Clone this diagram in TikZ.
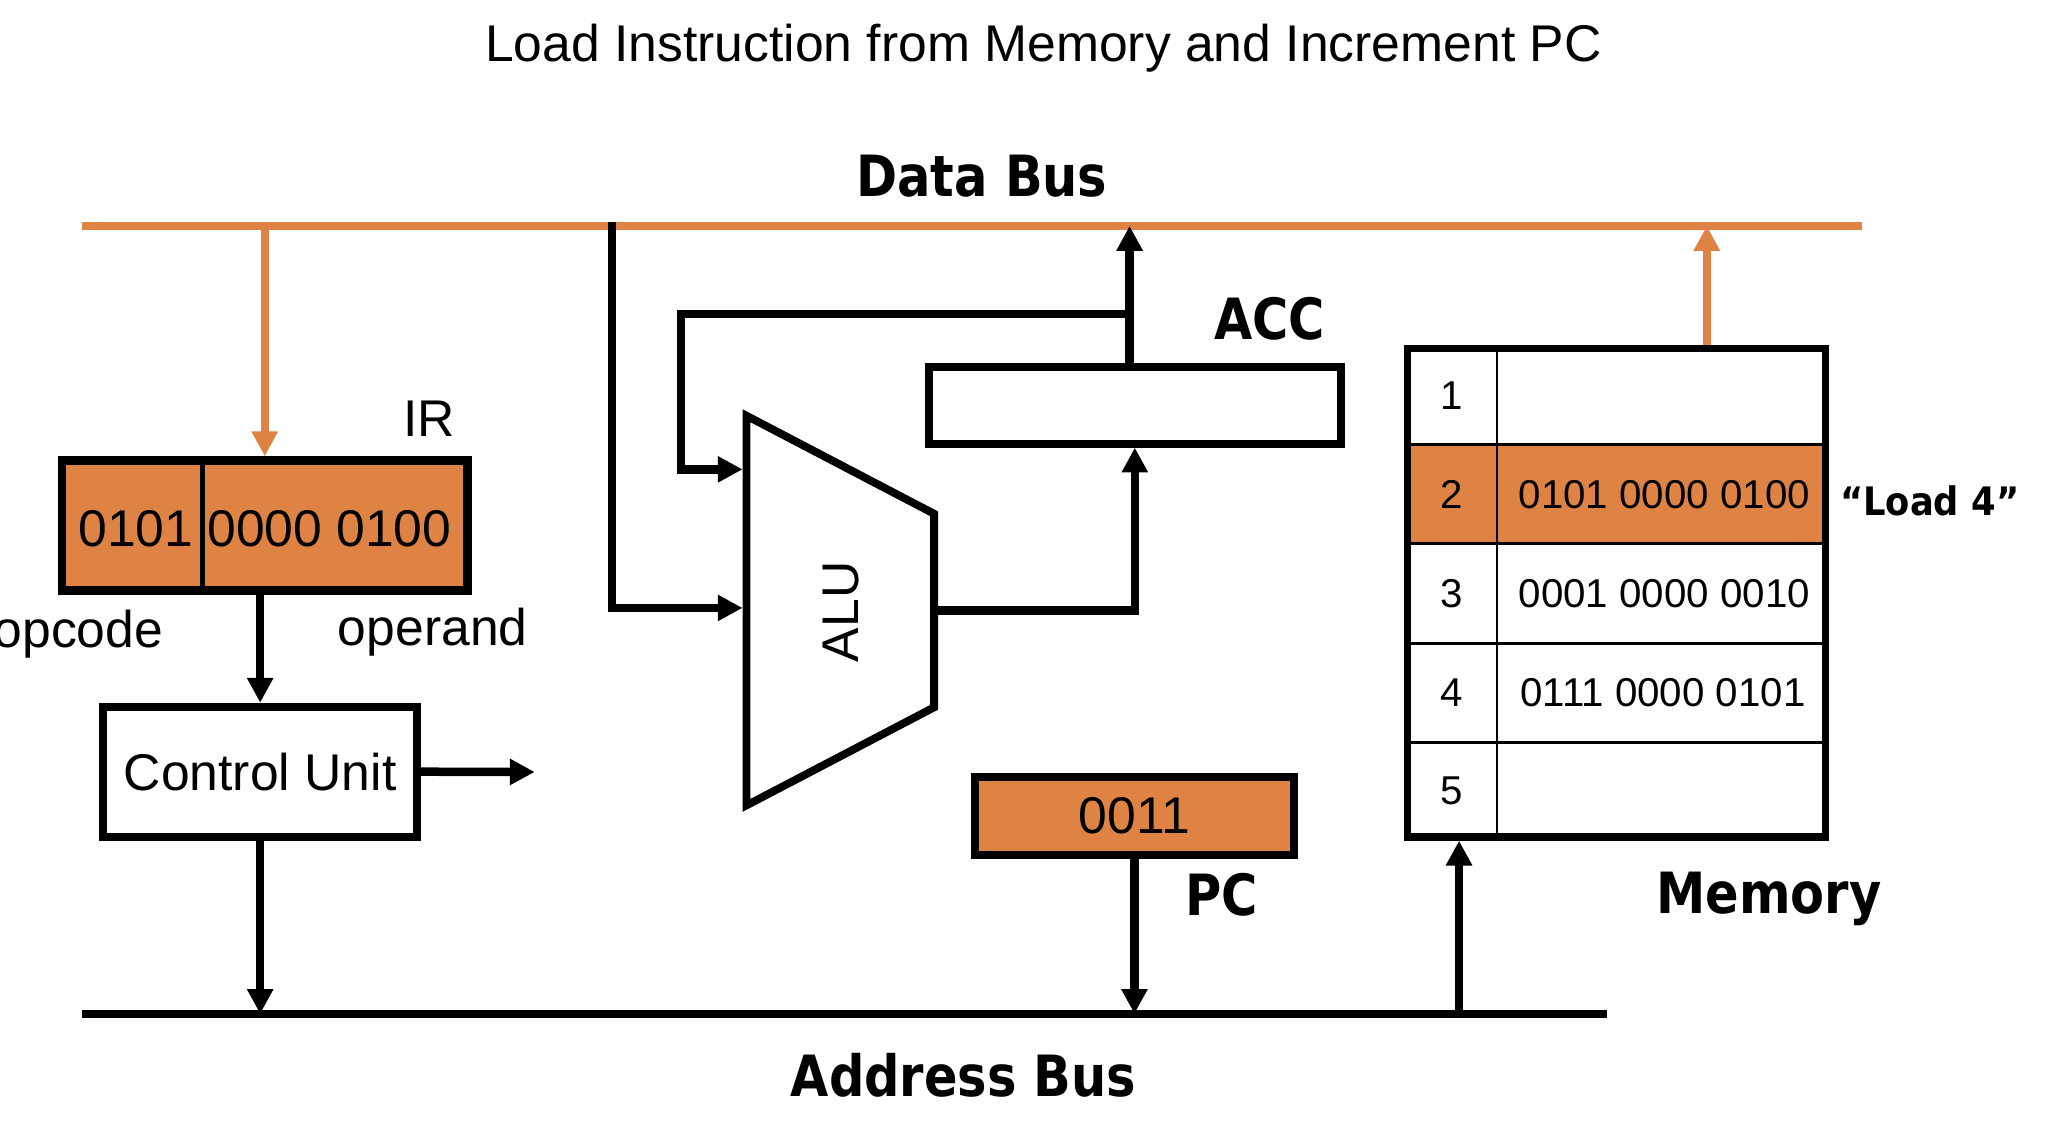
\documentclass[tikz,border=0pt]{standalone}
\usepackage{fontspec}
\usepackage{graphicx}
\setmainfont{Liberation Sans}
\newfontfamily\dvs{DejaVu Sans}
\usetikzlibrary{arrows.meta}
\definecolor{orng}{RGB}{223,131,69}
\newcommand{\blab}[3][0.87]{\scalebox{#1}[1]{\dvs\bfseries\fontsize{#2}{#2}\selectfont #3}}
\begin{document}
\begin{tikzpicture}[x=1pt,y=-1pt,
  ln/.style={line width=6.5pt, line join=miter},
  arr/.style={ln, -{Triangle[width=19pt,length=19pt]}},
  oarr/.style={arr, draw=orng},
  box/.style={draw, line width=6pt, inner sep=0pt, font=\fontsize{39.5}{45}\selectfont},
  txt/.style={inner sep=0pt, anchor=base, font=\fontsize{39.5}{45}\selectfont},
  mtxt/.style={inner sep=0pt, font=\fontsize{30.8}{36}\selectfont},
  blbl/.style={inner sep=0pt, anchor=base}]
\useasboundingbox (0,0) rectangle (1568,869);

% title
\node[txt] (title) at (798,47) {Load Instruction from Memory and Increment PC};

% buses
\coordinate (db-l) at (63,172.8);
\coordinate (db-r) at (1424,172.8);
\coordinate (ab-l) at (63,775.5);
\coordinate (ab-r) at (1229,775.5);
\draw[ln, orng] (db-l) -- (db-r);
\draw[ln] (ab-l) -- (ab-r);
\node[blbl] (dblab) at (751,150.5) {\blab{43.5}{Data Bus}};
\node[blbl] (ablab) at (737,839) {\blab{43.5}{Address Bus}};

% helper coordinates
\coordinate (tap2) at (468,169.5);
\coordinate (alu-in1) at (568,359);
\coordinate (alu-in2) at (568,465);
\coordinate (alu-out) at (714.5,467);
\coordinate (acc-tap) at (864,240);
\coordinate (fb) at (521,359);
\coordinate (cu-out) at (409,590.5);
\coordinate (m-addr) at (1116,775.5);
\coordinate (m-data) at (1305.5,172.8);

% boxes (nodes)
\node[box, line width=6.5pt, fill=orng, minimum width=310.5, minimum height=99.5] (ir) at (202.5,402) {};
\node[box, fill=white, minimum width=240, minimum height=99.5] (cu) at (199,590.25) {Control Unit};
\node[box, fill=white, minimum width=315, minimum height=58.7] (acc) at (868,310) {};
\node[box, fill=orng, minimum width=243.8, minimum height=60] (pc) at (867.7,624) {0011};

% IR contents
\draw[line width=4pt] (ir.north -| 155,0) -- (ir.south -| 155,0);
\node[txt] (op1) at (104,418) {0101};
\node[txt] (op2) at (252,418) {0000 0100};
\node[txt] (irlab) at (328,333.6) {IR};
\node[txt, anchor=base east] (opc) at (125,495) {opcode};
\node[txt] (opr) at (331,494) {operand};

% ALU
\coordinate (alu-a) at (571,318);
\coordinate (alu-b) at (714.5,393);
\coordinate (alu-c) at (714.5,541);
\coordinate (alu-d) at (571,616);
\draw[line width=6pt, line join=miter, fill=white] (alu-a) -- (alu-b) -- (alu-c) -- (alu-d) -- cycle;
\node[inner sep=0pt, rotate=90, font=\fontsize{39.5}{45}\selectfont] (alu) at (643,468) {ALU};

\node[blbl] (acclab) at (971,260) {\blab{43.5}{ACC}};
\node[blbl] (pclab) at (934.5,700) {\blab{43.5}{PC}};

% memory
\fill[orng] (1074,340) rectangle (1399,415.5);
\draw[line width=2.2pt] (1077,340) -- (1396,340)
  (1077,415.5) -- (1396,415.5)
  (1077,492) -- (1396,492)
  (1077,568) -- (1396,568)
  (1145,267) -- (1145,640);
\node[draw, line width=5.6pt, inner sep=0pt, minimum width=319.4, minimum height=373.4] (mem) at (1236.5,453.5) {};
\node[mtxt] (n1) at (1110,302.5) {1};
\node[mtxt] (n2) at (1110,378) {2};
\node[mtxt] (n3) at (1110,454) {3};
\node[mtxt] (n4) at (1110,530) {4};
\node[mtxt] (n5) at (1110,605) {5};
\node[mtxt] (c2) at (1273,378) {0101 0000 0100};
\node[mtxt] (c3) at (1273,454) {0001 0000 0010};
\node[mtxt] (c4) at (1272,530) {0111 0000 0101};
\node[blbl] (loadlab) at (1476,394) {\blab[0.9]{30}{“Load 4”}};
\node[blbl] (memlab) at (1353,699) {\blab{43.5}{Memory}};

% connectors
\draw[oarr] (ir.north |- db-l) -- (ir.north);
\draw[arr] (cu.north |- ir.south) -- (cu.north);
\draw[arr] (cu.east) -- (cu-out);
\draw[arr] (cu.south) -- (cu.south |- ab-l);
\draw[arr] (tap2) |- (alu-in2);
\draw[arr] (acc-tap) -| (fb) -- (alu-in1);
\draw[arr] (alu-out) -| (acc.south);
\draw[arr] (acc.north -| acc-tap) -- (acc-tap |- db-l);
\draw[arr] (pc.south) -- (pc.south |- ab-l);
\draw[arr] (m-addr) -- (m-addr |- mem.south);
\draw[oarr] (m-data |- mem.north) -- (m-data);
\end{tikzpicture}
\end{document}
